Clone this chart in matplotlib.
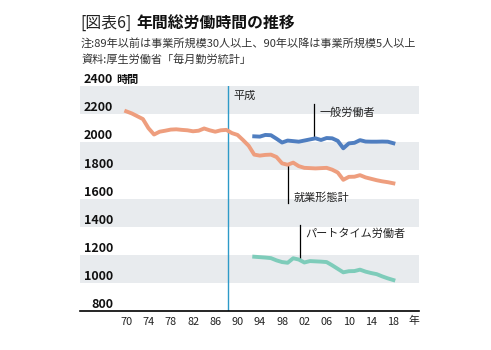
import matplotlib
matplotlib.use("Agg")
import matplotlib.pyplot as plt
import matplotlib.transforms as mtransforms

plt.rcParams['font.family'] = ['Noto Sans CJK JP', 'DejaVu Sans']

# data
years_total = list(range(1970, 2019))
total = [2220, 2205, 2185, 2165, 2100, 2055, 2075, 2082, 2090, 2092,
         2088, 2085, 2078, 2082, 2098, 2085, 2075, 2085, 2088, 2065,
         2052, 2015, 1975, 1912, 1905, 1910, 1912, 1895, 1850, 1840,
         1855, 1830, 1818, 1816, 1814, 1816, 1818, 1805, 1785, 1733,
         1754, 1755, 1766, 1750, 1740, 1730, 1722, 1716, 1708]

years_split = list(range(1993, 2019))
general = [2042, 2040, 2052, 2050, 2025, 1998, 2012, 2008, 2004, 2012,
           2020, 2028, 2016, 2030, 2028, 2010, 1957, 1992, 1996, 2015,
           2005, 2004, 2004, 2005, 2004, 1993]
parttime = [1186, 1183, 1180, 1176, 1160, 1148, 1143, 1175, 1166, 1145,
            1155, 1153, 1151, 1148, 1125, 1100, 1075, 1083, 1084, 1094,
            1080, 1070, 1062, 1046, 1032, 1020]

y_ticks = [800, 1000, 1200, 1400, 1600, 1800, 2000, 2200, 2400]
band_lows = [1000, 1400, 1800, 2200]
x_ticks = list(range(1970, 2019, 4))
x_labels = ['%02d' % (y % 100) for y in x_ticks]
heisei_year = 1988.2

c_total = '#EE9E7E'
c_general = '#4F7EC0'
c_part = '#7ECCBA'

fig = plt.figure(figsize=(4.91, 3.5), dpi=100)
ax = fig.add_axes([80 / 491, 1 - 311 / 350, 339 / 491, 225 / 350])

for lo in band_lows:
    ax.axhspan(lo, lo + 200, color='#E8EBEE', lw=0, zorder=0)

ax.axvline(heisei_year, color='#2E9AC8', lw=1, zorder=1)

ax.plot(years_total, total, color=c_total, lw=2.8, solid_joinstyle='round', zorder=3)
ax.plot(years_split, general, color=c_general, lw=2.8, solid_joinstyle='round', zorder=3)
ax.plot(years_split, parttime, color=c_part, lw=2.8, solid_joinstyle='round', zorder=3)

ax.set_xlim(1961.7, 2022.6)
ax.set_ylim(800, 2400)
ax.set_yticks([])
ax.set_xticks(x_ticks)
ax.set_xticklabels(x_labels, fontsize=7.8, color='#222222')
ax.tick_params(axis='x', length=0, pad=4)
for s in ['top', 'right', 'left']:
    ax.spines[s].set_visible(False)
ax.spines['bottom'].set_linewidth(1.2)
ax.text(1.0, -0.046, '年', transform=ax.transAxes, fontsize=7.8,
        ha='right', va='center', color='#222222')

# y labels drawn inside the plot, just above each gridline
trans = mtransforms.blended_transform_factory(ax.transAxes, ax.transData)
for v in y_ticks:
    ax.annotate(str(v), xy=(0.097, v), xycoords=trans, xytext=(0, 2),
                textcoords='offset points', ha='right', va='baseline',
                fontsize=9, fontweight='bold', color='#111111',
                annotation_clip=False)
ax.annotate('時間', xy=(0.107, 2400), xycoords=trans, xytext=(0, 2),
            textcoords='offset points', ha='left', va='baseline',
            fontsize=8, fontweight='bold', color='#111111', annotation_clip=False)

# annotations
ax.text(heisei_year + 1.0, 2330, '平成', fontsize=8, va='center', color='#222222')
ax.plot([2003.7, 2003.7], [2028, 2272], color='black', lw=0.9)
ax.text(2004.7, 2213, '一般労働者', fontsize=8, va='center', color='#222222')
ax.plot([1999.0, 1999.0], [1570, 1838], color='black', lw=0.9)
ax.text(2000.1, 1606, '就業形態計', fontsize=8, va='center', color='#222222')
ax.plot([2001.2, 2001.2], [1170, 1412], color='black', lw=0.9)
ax.text(2002.1, 1353, 'パートタイム労働者', fontsize=8, va='center', color='#222222')

# title and notes
fig.text(80 / 491, 1 - 23 / 350, '[図表6]', fontsize=11.4, va='center', color='#222222')
fig.text(136 / 491, 1 - 23 / 350, '年間総労働時間の推移', fontsize=11.4,
         fontweight='bold', va='center', color='#111111')
fig.text(81 / 491, 1 - 43 / 350, '注:89年以前は事業所規模30人以上、90年以降は事業所規模5人以上',
         fontsize=8, va='center', color='#333333')
fig.text(81 / 491, 1 - 60 / 350, '資料:厚生労働省「毎月勤労統計」',
         fontsize=8, va='center', color='#333333')

fig.savefig('out.png', dpi=100)
